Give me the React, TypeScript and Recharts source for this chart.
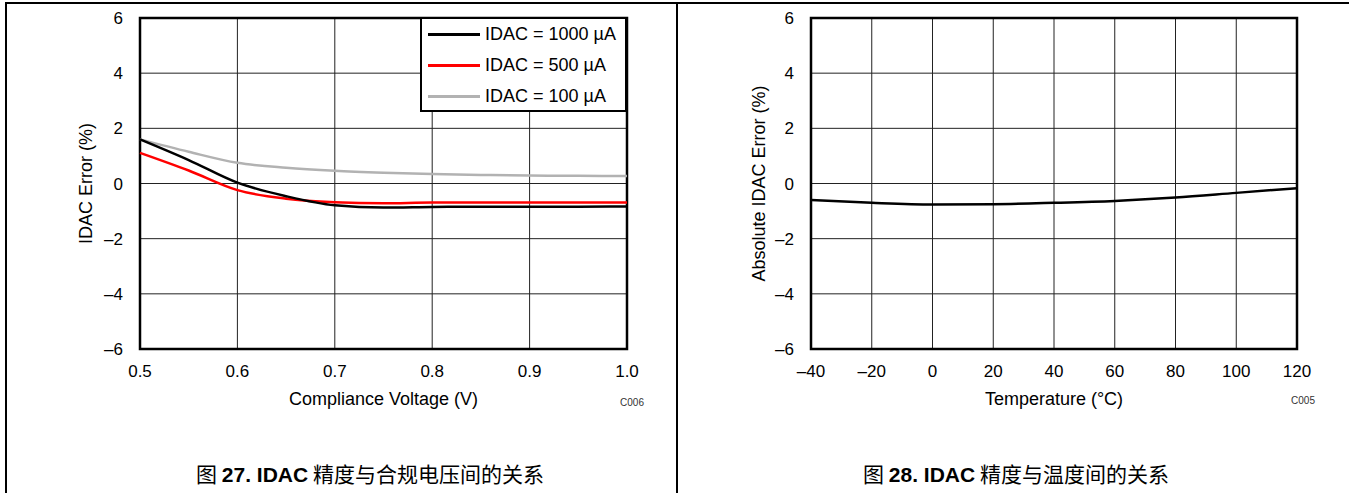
import {
  LineChart,
  Line,
  XAxis,
  YAxis,
  CartesianGrid,
  ReferenceArea,
  Legend,
} from "recharts";

// Figure 27: IDAC error vs compliance voltage
const voltage = [0.5, 0.55, 0.6, 0.65, 0.7, 0.75, 0.8, 0.85, 0.9, 0.95, 1.0];
const err1000 = [1.6, 0.85, 0.03, -0.46, -0.79, -0.87, -0.85, -0.84, -0.84, -0.84, -0.83];
const err500 = [1.11, 0.47, -0.24, -0.55, -0.68, -0.72, -0.69, -0.69, -0.69, -0.69, -0.69];
const err100 = [1.6, 1.15, 0.75, 0.57, 0.46, 0.39, 0.34, 0.31, 0.29, 0.28, 0.27];
const voltageTicks = [0.5, 0.6, 0.7, 0.8, 0.9, 1.0];

const seriesNames = ["IDAC = 1000 µA", "IDAC = 500 µA", "IDAC = 100 µA"];
const seriesColors = ["#000000", "#ff0000", "#b2b2b2"];

// Figure 28: absolute IDAC error vs temperature
const temperature = [-40, -20, 0, 20, 40, 60, 80, 100, 120];
const absError = [-0.6, -0.7, -0.76, -0.75, -0.7, -0.63, -0.51, -0.34, -0.17];
const tempTicks = [-40, -20, 0, 20, 40, 60, 80, 100, 120];

const errorTicks = [-6, -4, -2, 0, 2, 4, 6];

const FONT = '"Liberation Sans", Arial, sans-serif';
const CJK = '"Noto Sans CJK SC", "Liberation Sans", sans-serif';

const leftData = voltage.map((v, i) => ({
  v,
  a1000: err1000[i],
  a500: err500[i],
  a100: err100[i],
}));
const rightData = temperature.map((t, i) => ({ t, err: absError[i] }));

const minus = (v: number) => String(v).replace("-", "\u2013");
const tickStyle = { fill: "#000", fontSize: 17, fontFamily: FONT };

function renderLegend() {
  return (
    <div
      style={{
        width: 207,
        height: 95,
        border: "2px solid #000",
        boxSizing: "border-box",
        background: "#fff",
        fontFamily: FONT,
        fontSize: 18,
      }}
    >
      {seriesNames.map((name, i) => (
        <div key={name} style={{ display: "flex", alignItems: "center", height: 31 }}>
          <div style={{ marginLeft: 6, width: 52, height: 3, background: seriesColors[i] }} />
          <span style={{ marginLeft: 5, color: "#000", whiteSpace: "nowrap" }}>{name}</span>
        </div>
      ))}
    </div>
  );
}

function Caption({ num, text, cx }: { num: string; text: string; cx: number }) {
  return (
    <div
      style={{
        position: "absolute",
        left: cx - 300,
        width: 600,
        top: 459,
        textAlign: "center",
        fontSize: 21,
        fontFamily: CJK,
        color: "#000",
        lineHeight: "28px",
      }}
    >
      图 <b style={{ fontFamily: FONT }}>{num}. IDAC</b> {text}
    </div>
  );
}

export default function App() {
  return (
    <div
      style={{
        position: "absolute",
        left: 0,
        top: 0,
        width: 1349,
        height: 493,
        background: "#fff",
        overflow: "hidden",
      }}
    >
      {/* page frame */}
      <div style={{ position: "absolute", left: 5, top: 2, width: 1344, height: 2, background: "#000" }} />
      <div style={{ position: "absolute", left: 5, top: 2, width: 2, height: 491, background: "#000" }} />
      <div style={{ position: "absolute", left: 676, top: 2, width: 2, height: 491, background: "#000" }} />

      <div style={{ position: "absolute", left: 0, top: 0 }}>
        <LineChart
          width={678}
          height={430}
          data={leftData}
          margin={{ top: 18, right: 51, bottom: 25, left: 80 }}
        >
          <CartesianGrid stroke="#222" strokeWidth={1} />
          <XAxis
            dataKey="v"
            type="number"
            domain={[0.5, 1.0]}
            ticks={voltageTicks}
            tickFormatter={(v: number) => v.toFixed(1)}
            tickLine={false}
            axisLine={false}
            tickMargin={10}
            height={56}
            tick={tickStyle}
            label={{
              value: "Compliance Voltage (V)",
              position: "insideBottom",
              offset: 0,
              fill: "#000",
              fontSize: 18,
              fontFamily: FONT,
            }}
          />
          <YAxis
            type="number"
            domain={[-6, 6]}
            ticks={errorTicks}
            tickFormatter={minus}
            tickLine={false}
            axisLine={false}
            tickMargin={11}
            width={60}
            tick={tickStyle}
            label={{
              value: "IDAC Error (%)",
              angle: -90,
              position: "insideLeft",
              offset: 6,
              fill: "#000",
              fontSize: 18,
              fontFamily: FONT,
              style: { textAnchor: "middle" },
            }}
          />
          <ReferenceArea x1={0.5} x2={1.0} y1={-6} y2={6} fill="none" stroke="#000" strokeWidth={2.5} />
          <Line type="monotone" dataKey="a100" name={seriesNames[2]} stroke={seriesColors[2]} strokeWidth={2.5} dot={false} isAnimationActive={false} />
          <Line type="monotone" dataKey="a500" name={seriesNames[1]} stroke={seriesColors[1]} strokeWidth={2.5} dot={false} isAnimationActive={false} />
          <Line type="monotone" dataKey="a1000" name={seriesNames[0]} stroke={seriesColors[0]} strokeWidth={2.5} dot={false} isAnimationActive={false} />
          <Legend
            layout="horizontal"
            verticalAlign="middle"
            align="center"
            content={renderLegend}
            wrapperStyle={{ left: 420, top: 17, width: 207, height: 95 }}
          />
        </LineChart>
      </div>

      <div style={{ position: "absolute", left: 678, top: 0 }}>
        <LineChart
          width={671}
          height={430}
          data={rightData}
          margin={{ top: 18, right: 52, bottom: 25, left: 73 }}
        >
          <CartesianGrid stroke="#222" strokeWidth={1} />
          <XAxis
            dataKey="t"
            type="number"
            domain={[-40, 120]}
            ticks={tempTicks}
            tickFormatter={minus}
            tickLine={false}
            axisLine={false}
            tickMargin={10}
            height={56}
            tick={tickStyle}
            label={{
              value: "Temperature (°C)",
              position: "insideBottom",
              offset: 0,
              fill: "#000",
              fontSize: 18,
              fontFamily: FONT,
            }}
          />
          <YAxis
            type="number"
            domain={[-6, 6]}
            ticks={errorTicks}
            tickFormatter={minus}
            tickLine={false}
            axisLine={false}
            tickMargin={11}
            width={60}
            tick={tickStyle}
            label={{
              value: "Absolute IDAC Error (%)",
              angle: -90,
              position: "insideLeft",
              offset: 8,
              fill: "#000",
              fontSize: 18,
              fontFamily: FONT,
              style: { textAnchor: "middle" },
            }}
          />
          <ReferenceArea x1={-40} x2={120} y1={-6} y2={6} fill="none" stroke="#000" strokeWidth={2.5} />
          <Line type="monotone" dataKey="err" stroke="#000" strokeWidth={2.5} dot={false} isAnimationActive={false} />
        </LineChart>
      </div>

      <div style={{ position: "absolute", left: 612, top: 397, width: 40, textAlign: "center", fontSize: 10, fontFamily: FONT, color: "#333" }}>
        C006
      </div>
      <div style={{ position: "absolute", left: 1283, top: 395, width: 40, textAlign: "center", fontSize: 10, fontFamily: FONT, color: "#333" }}>
        C005
      </div>

      <Caption num="27" text="精度与合规电压间的关系" cx={370} />
      <Caption num="28" text="精度与温度间的关系" cx={1016} />
    </div>
  );
}
